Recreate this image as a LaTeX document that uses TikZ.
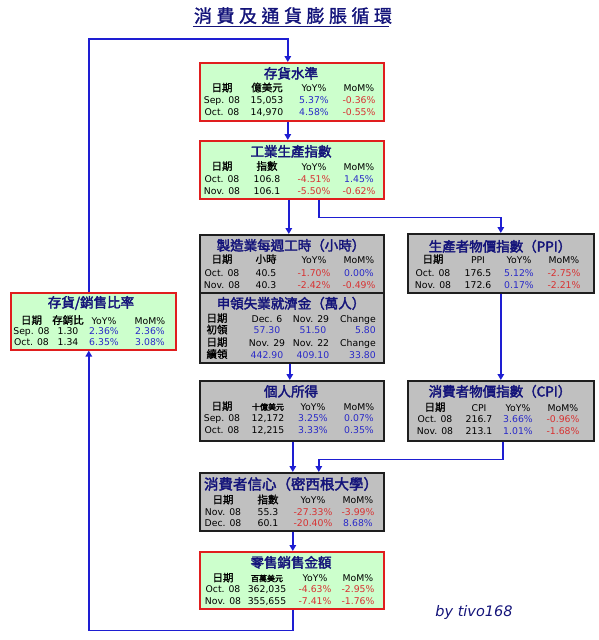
\documentclass[tikz,border=0pt]{standalone}
\usepackage{fontspec}
\setmainfont{DejaVu Sans}
\newfontfamily\cjk{Noto Sans CJK TC}[FakeBold=1]
\newfontfamily\cjkb{Noto Sans CJK TC}[FakeBold=2.5]
\newfontfamily\cjkt{Noto Sans CJK TC}[FakeBold=1.5,LetterSpace=25]
\newfontfamily\sigfont{DejaVu Sans}
\usetikzlibrary{arrows.meta}
\definecolor{gfill}{HTML}{CCFFCC}
\definecolor{sfill}{HTML}{C0C0C0}
\definecolor{bred}{HTML}{E01E1E}
\definecolor{bdark}{HTML}{1E1E1E}
\definecolor{tnavy}{HTML}{14147A}
\definecolor{vblue}{HTML}{2A2AC8}
\definecolor{vred}{HTML}{D83232}
\definecolor{lblue}{HTML}{1E1ED2}
\newcommand\posv[1]{\textcolor{vblue}{#1}}
\newcommand\negv[1]{\textcolor{vred}{#1}}
\newcommand\cj[1]{{\cjk\fontsize{10.5}{10.5}\selectfont #1}}
\newcommand\cjs[1]{{\cjkb\fontsize{8}{8}\selectfont #1}}
\newcommand\colsat[4]{\def\colA{#1}\def\colB{#2}\def\colC{#3}\def\colD{#4}}
\newcommand\trow[6]{%
  \node[cell] (#1a) at (\colA,#2) {#3};
  \node[cell] (#1b) at (\colB,#2) {#4};
  \node[cell] (#1c) at (\colC,#2) {#5};
  \node[cell] (#1d) at (\colD,#2) {#6};}
\tikzset{
  box/.style={draw, line width=1.6pt, inner sep=0pt, anchor=north west},
  gbox/.style={box, draw=bred, fill=gfill},
  sbox/.style={box, draw=bdark, fill=sfill},
  ttl/.style={font=\cjkb\fontsize{13.5}{13.5}\selectfont, text=tnavy, inner sep=0pt, text height=11pt, text depth=2pt},
  cell/.style={font=\fontsize{9.3}{9.3}\selectfont, inner sep=0pt, text height=7pt, text depth=1pt},
  conn/.style={draw=lblue, line width=1.6pt, -{Triangle[width=6.5pt,length=6pt]}},
}
\begin{document}
\begin{tikzpicture}[x=1pt,y=-1pt]
\useasboundingbox (0,0) rectangle (599,640);
% title
\node[font=\cjkt\fontsize{18}{18}\selectfont, text=tnavy, inner sep=0pt, text height=15pt, text depth=2pt] (title) at (293,16) {消費及通貨膨脹循環};
\draw[tnavy, line width=1.3pt] ([xshift=-1pt,yshift=-2pt]title.south west) -- ([xshift=-3pt,yshift=-2pt]title.south east);

% boxes
\node[gbox, minimum width=184pt, minimum height=58pt] (inv) at (199,62) {};
\node[gbox, minimum width=184pt, minimum height=58pt] (ind) at (199,140) {};
\node[sbox, minimum width=184pt, minimum height=58pt] (hrs) at (199,234) {};
\node[sbox, minimum width=184pt, minimum height=70pt] (clm) at (199,292) {};
\node[sbox, minimum width=186pt, minimum height=59pt] (ppi) at (407,233) {};
\node[gbox, minimum width=165pt, minimum height=57pt] (ratio) at (10,292) {};
\node[sbox, minimum width=184pt, minimum height=60pt] (inc) at (199,380) {};
\node[sbox, minimum width=186pt, minimum height=60pt] (cpi) at (407,380) {};
\node[sbox, minimum width=184pt, minimum height=58pt] (sent) at (199,472) {};
\node[gbox, minimum width=184pt, minimum height=57pt] (ret) at (199,551) {};

% inventory
\node[ttl] (invT) at (291,74) {存貨水準};
\colsat{222}{267}{314}{359}
\trow{invH}{88.5}{\cj{日期}}{\cj{億美元}}{YoY\%}{MoM\%}
\trow{invA}{100.5}{Sep. 08}{15,053}{\posv{5.37\%}}{\negv{-0.36\%}}
\trow{invB}{112.5}{Oct. 08}{14,970}{\posv{4.58\%}}{\negv{-0.55\%}}

% industrial production
\node[ttl] (indT) at (291,152) {工業生產指數};
\trow{indH}{167}{\cj{日期}}{\cj{指數}}{YoY\%}{MoM\%}
\trow{indA}{179}{Oct. 08}{106.8}{\negv{-4.51\%}}{\posv{1.45\%}}
\trow{indB}{191}{Nov. 08}{106.1}{\negv{-5.50\%}}{\negv{-0.62\%}}

% hours
\node[ttl] (hrsT) at (291,246) {製造業每週工時（小時）};
\colsat{222}{266}{314}{359}
\trow{hrsH}{260}{\cj{日期}}{\cj{小時}}{YoY\%}{MoM\%}
\trow{hrsA}{273}{Oct. 08}{40.5}{\negv{-1.70\%}}{\posv{0.00\%}}
\trow{hrsB}{285}{Nov. 08}{40.3}{\negv{-2.42\%}}{\negv{-0.49\%}}

% claims
\node[ttl] (clmT) at (291,304) {申領失業就濟金（萬人）};
\node[cell] (clmH1a) at (217,319) {\cj{日期}};
\node[cell] (clmH1b) at (267,319) {Dec. 6};
\node[cell] (clmH1c) at (311,319) {Nov. 29};
\node[cell, anchor=east] (clmH1d) at (376,319) {Change};
\node[cell] (clmAa) at (217,330.5) {\cj{初領}};
\node[cell] (clmAb) at (267,330.5) {\posv{57.30}};
\node[cell] (clmAc) at (313,330.5) {\posv{51.50}};
\node[cell, anchor=east] (clmAd) at (376,330.5) {\posv{5.80}};
\node[cell] (clmH2a) at (217,343) {\cj{日期}};
\node[cell] (clmH2b) at (267,343) {Nov. 29};
\node[cell] (clmH2c) at (311,343) {Nov. 22};
\node[cell, anchor=east] (clmH2d) at (376,343) {Change};
\node[cell] (clmBa) at (217,355) {\cj{續領}};
\node[cell] (clmBb) at (267,355) {\posv{442.90}};
\node[cell] (clmBc) at (313,355) {\posv{409.10}};
\node[cell, anchor=east] (clmBd) at (376,355) {\posv{33.80}};

% PPI
\node[ttl] (ppiT) at (500,247) {生產者物價指數（PPI）};
\colsat{433}{478}{519}{564}
\trow{ppiH}{260}{\cj{日期}}{PPI}{YoY\%}{MoM\%}
\trow{ppiA}{273}{Oct. 08}{176.5}{\posv{5.12\%}}{\negv{-2.75\%}}
\trow{ppiB}{285}{Nov. 08}{172.6}{\posv{0.17\%}}{\negv{-2.21\%}}

% ratio
\node[ttl] (ratioT) at (91,303) {存貨/銷售比率};
\colsat{31.5}{68}{104}{150}
\trow{ratioH}{321}{\cj{日期}}{\cj{存銷比}}{YoY\%}{MoM\%}
\trow{ratioA}{331.5}{Sep. 08}{1.30}{\posv{2.36\%}}{\posv{2.36\%}}
\trow{ratioB}{342}{Oct. 08}{1.34}{\posv{6.35\%}}{\posv{3.08\%}}

% income
\node[ttl] (incT) at (291,392) {個人所得};
\colsat{222}{268}{313}{359}
\trow{incH}{407}{\cj{日期}}{\cjs{十億美元}}{YoY\%}{MoM\%}
\trow{incA}{418.5}{Sep. 08}{12,172}{\posv{3.25\%}}{\posv{0.07\%}}
\trow{incB}{430.5}{Oct. 08}{12,215}{\posv{3.33\%}}{\posv{0.35\%}}

% CPI
\node[ttl] (cpiT) at (500,392) {消費者物價指數（CPI）};
\colsat{435}{479}{518}{563}
\trow{cpiH}{408}{\cj{日期}}{CPI}{YoY\%}{MoM\%}
\trow{cpiA}{419.5}{Oct. 08}{216.7}{\posv{3.66\%}}{\negv{-0.96\%}}
\trow{cpiB}{431.5}{Nov. 08}{213.1}{\posv{1.01\%}}{\negv{-1.68\%}}

% sentiment
\node[ttl, font=\cjkb\fontsize{14.5}{14.5}\selectfont] (sentT) at (291,485) {消費者信心（密西根大學）};
\colsat{223}{268}{313}{358}
\trow{sentH}{500.5}{\cj{日期}}{\cj{指數}}{YoY\%}{MoM\%}
\trow{sentA}{512}{Nov. 08}{55.3}{\negv{-27.33\%}}{\negv{-3.99\%}}
\trow{sentB}{523}{Dec. 08}{60.1}{\negv{-20.40\%}}{\posv{8.68\%}}

% retail
\node[ttl] (retT) at (291,563) {零售銷售金額};
\colsat{223}{267}{315}{358}
\trow{retH}{578.5}{\cj{日期}}{\cjs{百萬美元}}{YoY\%}{MoM\%}
\trow{retA}{589.5}{Oct. 08}{362,035}{\negv{-4.63\%}}{\negv{-2.95\%}}
\trow{retB}{601.5}{Nov. 08}{355,655}{\negv{-7.41\%}}{\negv{-1.76\%}}

% signature
\node[font=\sigfont\itshape\fontsize{14.5}{14.5}\selectfont, text=tnavy, inner sep=0pt] (sig) at (474,612) {by tivo168};

% connectors
\draw[conn] ([xshift=-4.5pt]ratio.north) |- ([xshift=-4pt,yshift=23pt]inv.north) -- ([xshift=-4pt]inv.north);
\draw[conn] ([xshift=-4pt]inv.south) -- ([xshift=-4pt]ind.north);
\draw[conn] ([xshift=-3pt]ind.south) -- ([xshift=-3pt]hrs.north);
\draw[conn] ([xshift=27pt]ind.south) -- ++(0,18) -| (ppi.north);
\draw[conn] ([xshift=-2pt]clm.south) -- ([xshift=-2pt]inc.north);
\draw[conn] ([xshift=1pt]inc.south) -- ([xshift=1pt]sent.north);
\draw[conn] (ppi.south) -- (cpi.north);
\draw[conn] ([xshift=2pt]cpi.south) -- ++(0,18) -| ([xshift=27pt]sent.north);
\draw[conn] ([xshift=1pt]sent.south) -- ([xshift=1pt]ret.north);
\draw[conn] ([xshift=1pt]ret.south) -- ++(0,21) -| ([xshift=-4.5pt]ratio.south);
\end{tikzpicture}
\end{document}
